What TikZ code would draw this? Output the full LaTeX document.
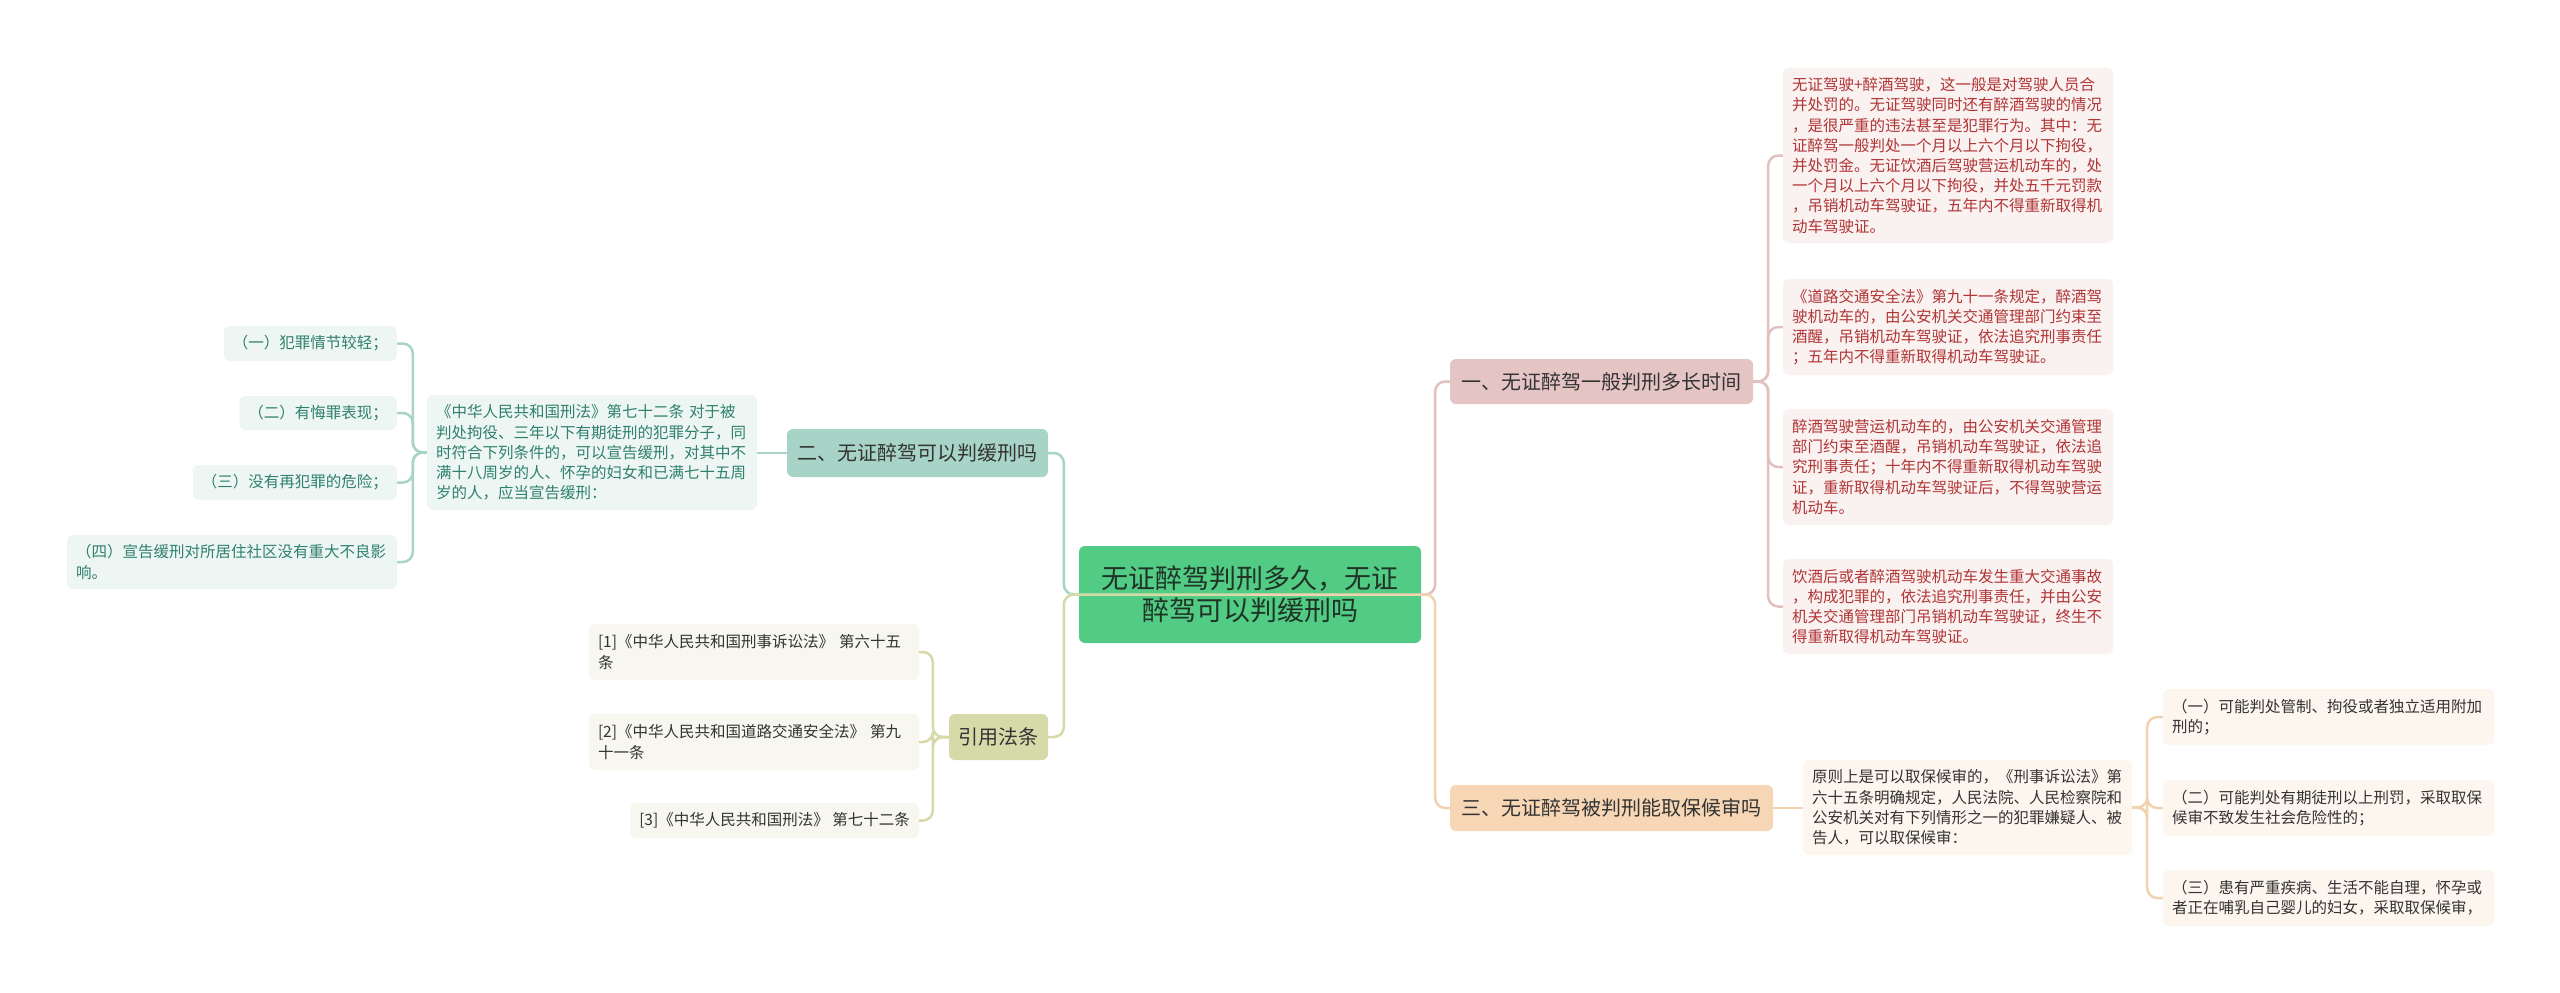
\documentclass[tikz,border=0pt]{standalone}
\usepackage{fontspec}
\setmainfont{Noto Sans CJK SC}
\definecolor{centerfill}{HTML}{52CC84}
\definecolor{centertext}{HTML}{1F3326}
\definecolor{pinkfill}{HTML}{E5C4C4}
\definecolor{pinkline}{HTML}{E2C0C0}
\definecolor{pinkleaffill}{HTML}{FAF1F1}
\definecolor{pinktext}{HTML}{B03535}
\definecolor{peachfill}{HTML}{F6D6B4}
\definecolor{peachline}{HTML}{F2D3B0}
\definecolor{peachleaffill}{HTML}{FDF6EE}
\definecolor{tealfill}{HTML}{A8D4C7}
\definecolor{tealline}{HTML}{A8D4C7}
\definecolor{tealleaffill}{HTML}{EEF6F4}
\definecolor{tealtext}{HTML}{2F806C}
\definecolor{olivefill}{HTML}{D6DAA8}
\definecolor{oliveline}{HTML}{D6DAA8}
\definecolor{oliveleaffill}{HTML}{F7F7EF}
\definecolor{darktext}{HTML}{333333}
\begin{document}
\begin{tikzpicture}[x=1pt,y=-1pt,
  leaf/.style={rectangle, rounded corners=6pt, inner xsep=9pt, inner ysep=0pt,
    font=\fontsize{15.5}{20.2}\selectfont, align=left},
  pinkleaf/.style={leaf, fill=pinkleaffill, text=pinktext, text width=312pt},
  peachleaf/.style={leaf, fill=peachleaffill, text=darktext},
  tealleaf/.style={leaf, fill=tealleaffill, text=tealtext},
  oliveleaf/.style={leaf, fill=oliveleaffill, text=darktext},
  branch/.style={rectangle, rounded corners=6pt, inner sep=0pt, align=center,
    font=\fontsize{20}{24}\selectfont, text=darktext},
  conn/.style={line width=2.5pt, rounded corners=10pt},
]
\useasboundingbox (0,0) rectangle (2560,993);
\fill[white] (0,0) rectangle (2560,993);

% ---- nodes ----
\node[rectangle, rounded corners=6pt, fill=centerfill, text=centertext, align=center,
  minimum width=342pt, minimum height=97pt, inner sep=0pt,
  font=\fontsize{27}{32}\selectfont] (c) at (1250,594.5)
  {无证醉驾判刑多久，无证\\醉驾可以判缓刑吗};

\node[branch, fill=pinkfill, minimum width=303pt, minimum height=45pt] (b1) at (1601.5,381.5) {一、无证醉驾一般判刑多长时间};
\node[branch, fill=peachfill, minimum width=323pt, minimum height=46pt] (b3) at (1611.5,808) {三、无证醉驾被判刑能取保候审吗};
\node[branch, fill=tealfill, minimum width=261pt, minimum height=48pt] (b2) at (917.5,453) {二、无证醉驾可以判缓刑吗};
\node[branch, fill=olivefill, minimum width=99pt, minimum height=46pt] (cite) at (998.5,737) {引用法条};

% pink leaves
\node[pinkleaf, minimum height=175pt] (p1) at (1948,155.5) {无证驾驶+醉酒驾驶，这一般是对驾驶人员合\\并处罚的。无证驾驶同时还有醉酒驾驶的情况\\，是很严重的违法甚至是犯罪行为。其中：无\\证醉驾一般判处一个月以上六个月以下拘役，\\并处罚金。无证饮酒后驾驶营运机动车的，处\\一个月以上六个月以下拘役，并处五千元罚款\\，吊销机动车驾驶证，五年内不得重新取得机\\动车驾驶证。};
\node[pinkleaf, minimum height=96pt] (p2) at (1948,327) {《道路交通安全法》第九十一条规定，醉酒驾\\驶机动车的，由公安机关交通管理部门约束至\\酒醒，吊销机动车驾驶证，依法追究刑事责任\\；五年内不得重新取得机动车驾驶证。};
\node[pinkleaf, minimum height=116pt] (p3) at (1948,467) {醉酒驾驶营运机动车的，由公安机关交通管理\\部门约束至酒醒，吊销机动车驾驶证，依法追\\究刑事责任；十年内不得重新取得机动车驾驶\\证，重新取得机动车驾驶证后，不得驾驶营运\\机动车。};
\node[pinkleaf, minimum height=95pt] (p4) at (1948,606.5) {饮酒后或者醉酒驾驶机动车发生重大交通事故\\，构成犯罪的，依法追究刑事责任，并由公安\\机关交通管理部门吊销机动车驾驶证，终生不\\得重新取得机动车驾驶证。};

% peach leaves
\node[peachleaf, text width=311pt, minimum height=95pt] (q0) at (1967.5,807.5) {原则上是可以取保候审的，《刑事诉讼法》第\\六十五条明确规定，人民法院、人民检察院和\\公安机关对有下列情形之一的犯罪嫌疑人、被\\告人，可以取保候审：};
\node[peachleaf, text width=313pt, minimum height=56pt] (q1) at (2328.5,717) {（一）可能判处管制、拘役或者独立适用附加\\刑的；};
\node[peachleaf, text width=313pt, minimum height=56pt] (q2) at (2328.5,808) {（二）可能判处有期徒刑以上刑罚，采取取保\\候审不致发生社会危险性的；};
\node[peachleaf, text width=313pt, minimum height=56pt] (q3) at (2328.5,898) {（三）患有严重疾病、生活不能自理，怀孕或\\者正在哺乳自己婴儿的妇女，采取取保候审，};

% teal leaves
\node[tealleaf, text width=312pt, minimum height=115pt] (t0) at (592,452.5) {《中华人民共和国刑法》第七十二条 对于被\\判处拘役、三年以下有期徒刑的犯罪分子，同\\时符合下列条件的，可以宣告缓刑，对其中不\\满十八周岁的人、怀孕的妇女和已满七十五周\\岁的人，应当宣告缓刑：};
\node[tealleaf, anchor=east, minimum height=35pt] (t1) at (397,343.5) {（一）犯罪情节较轻；};
\node[tealleaf, anchor=east, minimum height=34pt] (t2) at (397,413) {（二）有悔罪表现；};
\node[tealleaf, anchor=east, minimum height=35pt] (t3) at (397,482.5) {（三）没有再犯罪的危险；};
\node[tealleaf, text width=312pt, minimum height=54pt] (t4) at (232,562) {（四）宣告缓刑对所居住社区没有重大不良影\\响。};

% olive leaves
\node[oliveleaf, text width=312pt, minimum height=56pt] (o1) at (754,652) {[1]《中华人民共和国刑事诉讼法》 第六十五\\条};
\node[oliveleaf, text width=312pt, minimum height=56pt] (o2) at (754,742) {[2]《中华人民共和国道路交通安全法》 第九\\十一条};
\node[oliveleaf, anchor=east, minimum height=35pt] (o3) at (919,820.5) {[3]《中华人民共和国刑法》 第七十二条};

% ---- connectors ----
\draw[conn, pinkline] (c.east) -- ++(14,0) |- (b1.west);
\draw[conn, tealline] (c.west) -- ++(-15,0) |- (b2.east);
\draw[conn, peachline] (c.center) -- (c.east) -- ++(14,0) |- (b3.west);
\draw[conn, oliveline] (c.center) -- (c.west) -- ++(-15,0) |- (cite.east);

\foreach \n in {p1,p2,p3,p4}
  \draw[conn, pinkline] (b1.east) -- ++(15,0) |- (\n.west);

\draw[conn, peachline] (b3.east) -- (b3.east -| q0.west);
\foreach \n in {q1,q2,q3}
  \draw[conn, peachline] (q0.east) -- ++(15,0) |- (\n.west);

\draw[conn, tealline] (b2.west) -- (b2.west -| t0.east);
\foreach \n in {t1,t2,t3,t4}
  \draw[conn, tealline] (t0.west) -- ++(-14,0) |- (\n.east);

\foreach \n in {o1,o2,o3}
  \draw[conn, oliveline] (cite.west) -- ++(-16,0) |- (\n.east);
\end{tikzpicture}
\end{document}
